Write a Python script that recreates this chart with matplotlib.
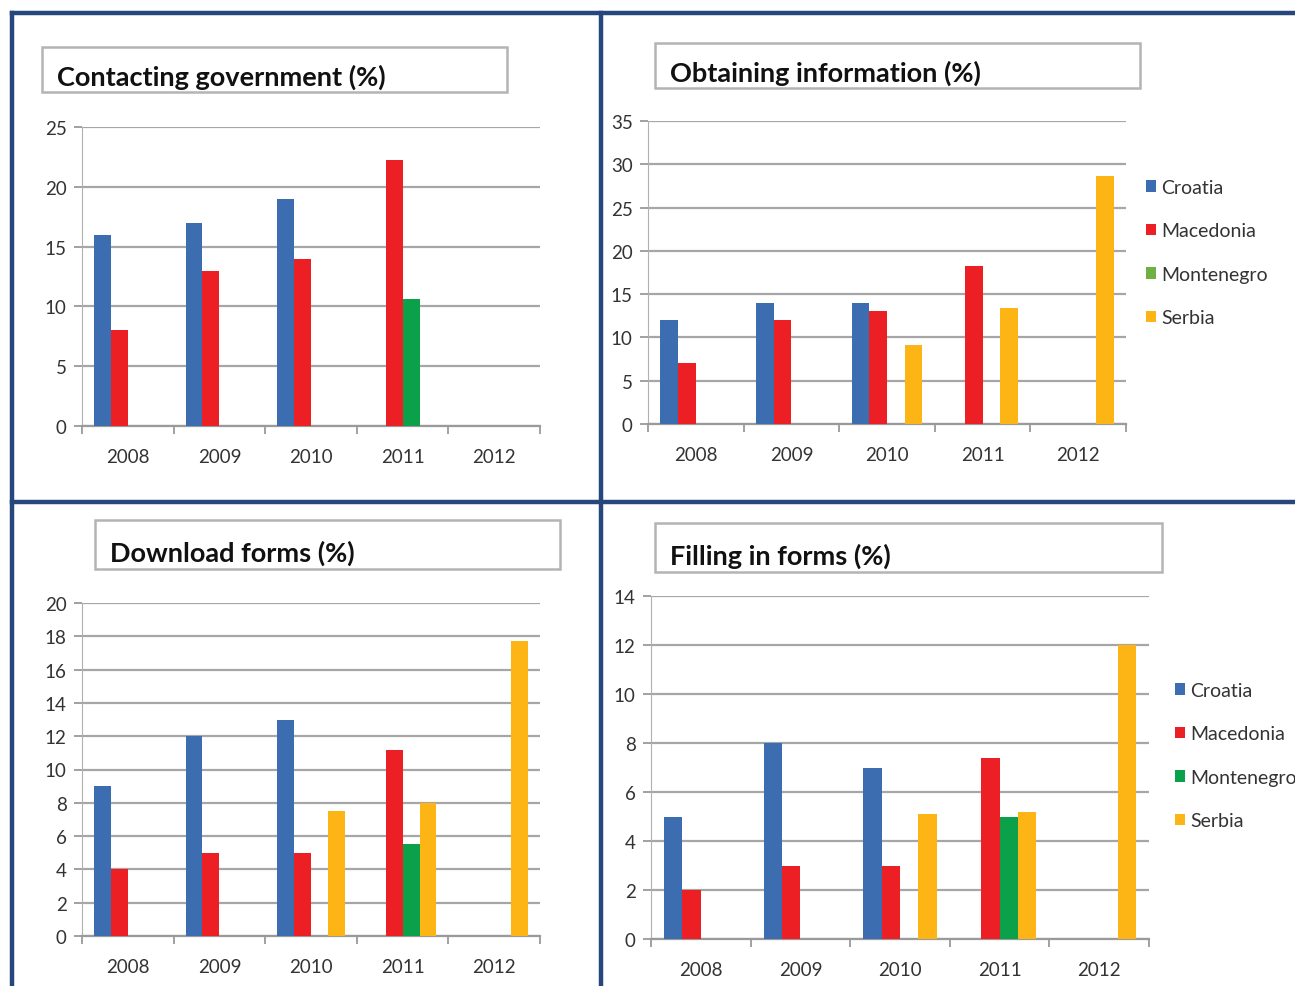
import numpy as np
import matplotlib.pyplot as plt
from matplotlib.patches import Rectangle, Patch
from matplotlib.lines import Line2D

plt.rcParams['font.family'] = ['Lato', 'DejaVu Sans']

W, H = 1295, 987

years = ["2008", "2009", "2010", "2011", "2012"]
countries = ["Croatia", "Macedonia", "Montenegro", "Serbia"]
colors = ["#3c6db0", "#ec2024", "#0ba04a", "#fdb515"]
nan = np.nan

contact_croatia = [16, 17, 19, nan, nan]
contact_macedonia = [8, 13, 14, 22.2, nan]
contact_montenegro = [nan, nan, nan, 10.6, nan]
contact_serbia = [nan, nan, nan, nan, nan]

info_croatia = [12, 14, 14, nan, nan]
info_macedonia = [7, 12, 13, 18.2, nan]
info_montenegro = [nan, nan, nan, nan, nan]
info_serbia = [nan, nan, 9.1, 13.4, 28.7]

download_croatia = [9, 12, 13, nan, nan]
download_macedonia = [4, 5, 5, 11.2, nan]
download_montenegro = [nan, nan, nan, 5.5, nan]
download_serbia = [nan, nan, 7.5, 8, 17.7]

filling_croatia = [5, 8, 7, nan, nan]
filling_macedonia = [2, 3, 3, 7.4, nan]
filling_montenegro = [nan, nan, nan, 5, nan]
filling_serbia = [nan, nan, 5.1, 5.2, 12]


def px_axes(fig, x0, x1, ytop, ybot):
    return fig.add_axes([x0 / W, 1 - ybot / H, (x1 - x0) / W, (ybot - ytop) / H])


def title_box(fig, x0, x1, y0, y1, text, tx):
    fig.patches.append(Rectangle((x0 / W, 1 - y1 / H), (x1 - x0) / W, (y1 - y0) / H,
                                 transform=fig.transFigure, facecolor="white",
                                 edgecolor="#b4b4b4", linewidth=1.8))
    fig.text(tx / W, 1 - (y0 + (y1 - y0) * 0.66) / H, text, fontsize=19.5,
             fontweight="bold", color="#111111", va="center", ha="left")


def panel(ax, series, ymax, ystep, mont_color):
    x = np.arange(len(years))
    w = 0.185
    cols = list(colors)
    cols[2] = mont_color
    for i, vals in enumerate(series):
        vals = np.array(vals, dtype=float)
        ok = ~np.isnan(vals)
        ax.bar(x[ok] + (i - 1.5) * w, vals[ok], width=w, color=cols[i], zorder=3)
    ax.set_xlim(-0.5, len(years) - 0.5)
    ax.set_ylim(0, ymax)
    ax.set_yticks(np.arange(0, ymax + 0.1, ystep))
    ax.set_xticks(np.arange(-0.5, len(years)), labels=[])
    ax.set_xticks(x, labels=years, minor=True)
    ax.tick_params(axis="x", which="major", length=6, width=1.3, color="#9a9a9a", direction="out")
    ax.tick_params(axis="x", which="minor", length=0, pad=16, labelsize=13.5, labelcolor="#333333")
    ax.tick_params(axis="y", length=6, width=1.3, color="#9a9a9a", pad=5, labelsize=13.5,
                   labelcolor="#333333")
    ax.grid(axis="y", color="#a6a6a6", linewidth=1.6, zorder=0)
    for s in ["top", "right"]:
        ax.spines[s].set_visible(False)
    ax.spines["left"].set_color("#b0b0b0")
    ax.spines["bottom"].set_color("#9a9a9a")
    ax.spines["bottom"].set_linewidth(1.6)
    ax.set_facecolor("none")


def legend(fig, x, y, mont_color):
    cols = list(colors)
    cols[2] = mont_color
    handles = [Patch(facecolor=c, edgecolor="none") for c in cols]
    fig.legend(handles, countries, loc="upper left", bbox_to_anchor=(x / W, 1 - y / H),
               frameon=False, fontsize=14, handlelength=0.5, handleheight=0.55,
               handletextpad=0.3, labelspacing=1.36, borderpad=0, borderaxespad=0,
               labelcolor="#333333")


def main():
    fig = plt.figure(figsize=(W / 100, H / 100), dpi=100)

    # panel borders
    navy = "#26477c"
    for (xa, ya, xb, yb) in [(12, 14, 1295, 14), (12, 14, 12, 987), (601, 14, 601, 987),
                             (12, 503, 1295, 503)]:
        fig.add_artist(Line2D([xa / W, xb / W], [1 - ya / H, 1 - yb / H], color=navy,
                              linewidth=3.2, transform=fig.transFigure))

    title_box(fig, 42, 507, 48, 93, "Contacting government (%)", 57)
    title_box(fig, 655, 1140, 44, 89, "Obtaining information (%)", 670)
    title_box(fig, 95, 560, 521, 570, "Download forms (%)", 110)
    title_box(fig, 655, 1162, 524, 573, "Filling in forms (%)", 670)

    ax1 = px_axes(fig, 82, 540, 128, 427)
    panel(ax1, [contact_croatia, contact_macedonia, contact_montenegro, contact_serbia],
          25, 5, "#0ba04a")

    ax2 = px_axes(fig, 648, 1126, 122, 425)
    panel(ax2, [info_croatia, info_macedonia, info_montenegro, info_serbia],
          35, 5, "#6eb043")
    legend(fig, 1146, 180, "#6eb043")

    ax3 = px_axes(fig, 82, 540, 604, 937)
    panel(ax3, [download_croatia, download_macedonia, download_montenegro, download_serbia],
          20, 2, "#0ba04a")

    ax4 = px_axes(fig, 651, 1149, 597, 940)
    panel(ax4, [filling_croatia, filling_macedonia, filling_montenegro, filling_serbia],
          14, 2, "#0ba04a")
    legend(fig, 1175, 683, "#0ba04a")

    plt.savefig("out.png", dpi=100)


if __name__ == '__main__':
    main()
